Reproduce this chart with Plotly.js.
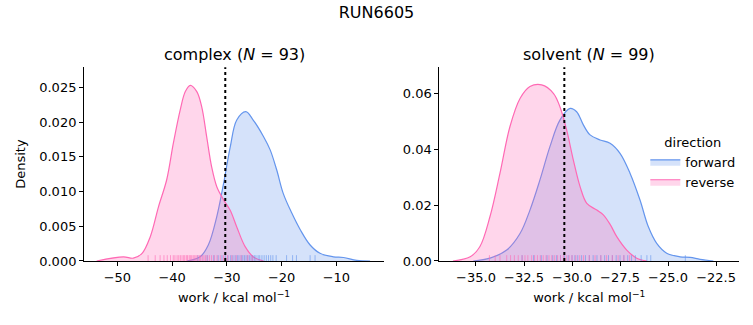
<!DOCTYPE html>
<html>
<head>
<meta charset="utf-8">
<script src="https://cdn.plot.ly/plotly-3.0.1.min.js"></script>
<style>html,body{margin:0;padding:0;background:#fff;}#chart{width:753px;height:325px;}</style>
</head>
<body>
<div id="chart"></div>
<script>
// ---- data ----
const figTitle = "RUN6605";
const panelNames = ["complex", "solvent"];
const panelN = [93, 99];
const directions = ["forward", "reverse"];
const refLine = [-30.3, -30.4];

// KDE curves (x, density) - complex
const cxForwardX = [-37.3, -34.9, -33.4, -31.85, -30.6, -29.4, -28.2, -26.55, -25.2, -23.3, -22.1, -20.9, -19.7, -18.15, -16.6, -14.8, -13.0, -10.55, -8.7, -6.3, -3.85];
const cxForwardY = [0, 0.0006, 0.0023, 0.0064, 0.0112, 0.0164, 0.0203, 0.0215, 0.0203, 0.0179, 0.0160, 0.0131, 0.0097, 0.0069, 0.0045, 0.0023, 0.0011, 0.0006, 0.0005, 0.0001, 0];
const cxReverseX = [-53.8, -48.9, -47.1, -45.5, -44.0, -42.5, -41.0, -39.8, -38.55, -37.6, -36.7, -35.5, -34.6, -33.7, -32.8, -31.85, -30.6, -29.4, -28.2, -26.7, -25.2, -23.3];
const cxReverseY = [0, 0.0006, 0.0004, 0.0011, 0.0035, 0.0078, 0.0117, 0.0169, 0.0217, 0.0244, 0.0253, 0.0244, 0.0222, 0.0179, 0.0136, 0.0107, 0.0088, 0.0073, 0.0049, 0.0021, 0.0006, 0];

// KDE curves - solvent
const svForwardX = [-35.14, -34.27, -33.4, -32.7, -32.19, -31.67, -31.15, -30.63, -30.1, -29.76, -29.41, -29.06, -28.54, -28.02, -27.5, -26.98, -26.46, -26.03, -25.59, -25.07, -24.38, -23.85, -23.33, -22.64];
const svForwardY = [0, 0.001, 0.0039, 0.0099, 0.0182, 0.029, 0.0409, 0.0504, 0.0546, 0.0534, 0.0487, 0.0451, 0.0433, 0.0421, 0.0385, 0.0314, 0.0218, 0.0123, 0.0063, 0.0028, 0.0015, 0.0013, 0.0006, 0];
const svReverseX = [-36.2, -35.3, -34.8, -34.27, -33.75, -33.23, -32.7, -32.19, -31.58, -30.97, -30.63, -30.28, -29.93, -29.58, -29.23, -28.71, -28.37, -28.0, -27.67, -27.15, -26.63, -26.1];
const svReverseY = [0, 0.0015, 0.0051, 0.0159, 0.0314, 0.0481, 0.0582, 0.0624, 0.063, 0.060, 0.0552, 0.0469, 0.0361, 0.0266, 0.0206, 0.0182, 0.0165, 0.0129, 0.0087, 0.0039, 0.0010, 0];

// rug samples (work values)
const cxForwardRug = [-35.3, -33.6, -32.4, -31.6, -30.9, -30.3, -29.8, -29.3, -28.9, -28.5, -28.1, -27.8, -27.4, -27.1, -26.8, -26.5, -26.2, -25.9, -25.6, -25.3, -25.0, -24.7, -24.3, -24.0, -23.6, -23.2, -22.8, -22.4, -22.0, -21.6, -21.0, -19.1, -18.0, -17.3, -14.8, -13.9];
const cxReverseRug = [-44.4, -43.1, -42.2, -41.5, -40.9, -40.3, -39.8, -39.5, -39.1, -38.8, -38.5, -38.2, -37.9, -37.7, -37.4, -37.2, -36.9, -36.7, -36.5, -36.2, -36.0, -35.8, -35.5, -35.3, -35.0, -34.8, -34.5, -34.2, -33.9, -33.6, -33.2, -32.8, -32.3, -31.8, -31.2, -30.6, -29.9, -29.1, -28.3, -27.4, -26.2, -25.4];
const svForwardRug = [-32.6, -32.0, -31.6, -31.3, -31.0, -30.8, -30.6, -30.4, -30.2, -30.0, -29.85, -29.7, -29.5, -29.3, -29.1, -28.9, -28.7, -28.5, -28.3, -28.1, -27.9, -27.7, -27.5, -27.3, -27.1, -26.9, -26.7, -26.4, -26.1, -25.9, -24.1];
const svReverseRug = [-34.3, -34.0, -33.75, -33.4, -33.2, -33.0, -32.8, -32.6, -32.45, -32.3, -32.1, -31.95, -31.8, -31.65, -31.5, -31.35, -31.2, -31.05, -30.9, -30.75, -30.6, -30.45, -30.3, -30.15, -30.0, -29.8, -29.6, -29.4, -29.1, -28.8, -28.5, -28.2, -27.9, -27.6, -27.3, -27.0];

// ---- styling ----
const blue = "#6495ED", pink = "#FF69B4";
const blueFill = "rgba(100,149,237,0.27)", pinkFill = "rgba(255,105,180,0.27)";
const blueRug = "rgba(100,149,237,0.6)", pinkRug = "rgba(255,105,180,0.6)";
const font = "DejaVu Sans, sans-serif";
const fs = 13;

function curve(x, y, xa, ya, name, line, fill, showlegend) {
  return {x: x, y: y, xaxis: xa, yaxis: ya, type: "scatter", mode: "lines", name: name,
    line: {color: line, width: 1.2, shape: "spline", smoothing: 1.0}, fill: "tozeroy", fillcolor: fill,
    showlegend: showlegend, legendgroup: name, hoverinfo: "skip"};
}

const traces = [
  curve(cxForwardX, cxForwardY, "x", "y", directions[0], blue, blueFill, true),
  curve(cxReverseX, cxReverseY, "x", "y", directions[1], pink, pinkFill, true),
  curve(svForwardX, svForwardY, "x2", "y2", directions[0], blue, blueFill, false),
  curve(svReverseX, svReverseY, "x2", "y2", directions[1], pink, pinkFill, false)
];

const shapes = [];
function rug(vals, xref, yref, color) {
  vals.forEach(v => shapes.push({type: "line", xref: xref, yref: yref + " domain", x0: v, x1: v, y0: 0, y1: 0.03,
    line: {color: color, width: 1}}));
}
rug(cxForwardRug, "x", "y", blueRug);
rug(cxReverseRug, "x", "y", pinkRug);
rug(svForwardRug, "x2", "y2", blueRug);
rug(svReverseRug, "x2", "y2", pinkRug);
shapes.push({type: "line", xref: "x", yref: "y domain", x0: refLine[0], x1: refLine[0], y0: 0, y1: 1, line: {color: "black", width: 2, dash: "dot"}});
shapes.push({type: "line", xref: "x2", yref: "y2 domain", x0: refLine[1], x1: refLine[1], y0: 0, y1: 1, line: {color: "black", width: 2, dash: "dot"}});

const axisCommon = {showgrid: false, zeroline: false, showline: true, linecolor: "black", linewidth: 1,
  ticks: "outside", ticklen: 4, tickwidth: 1, tickcolor: "black", tickfont: {size: fs, color: "black", family: font}};
const xTitle = {text: "work / kcal mol<sup>−1</sup>", font: {size: fs, color: "black", family: font}, standoff: 9};

const yDom = [0.197, 0.793];
const layout = {
  width: 753, height: 325,
  margin: {l: 0, r: 0, t: 0, b: 0},
  paper_bgcolor: "white", plot_bgcolor: "white",
  font: {family: font, color: "black"},
  title: {text: figTitle, x: 0.5, xanchor: "center", y: 0.962, yanchor: "middle", font: {size: 16, family: font, color: "black"}},
  xaxis: Object.assign({}, axisCommon, {domain: [0.1116, 0.510], range: [-56.1, -1.3], anchor: "y", dtick: 10, tick0: 0, title: xTitle}),
  yaxis: Object.assign({}, axisCommon, {domain: yDom, range: [0, 0.0279], anchor: "x", dtick: 0.005, tickformat: ".3f",
    title: {text: "Density", font: {size: fs, color: "black", family: font}, standoff: 10}}),
  xaxis2: Object.assign({}, axisCommon, {domain: [0.5834, 0.9818], range: [-36.91, -21.29], anchor: "y2", dtick: 2.5, tick0: 0, tickformat: ".1f", title: xTitle}),
  yaxis2: Object.assign({}, axisCommon, {domain: yDom, range: [0, 0.0693], anchor: "x2", dtick: 0.02, tickformat: ".2f"}),
  shapes: shapes,
  annotations: [
    {text: panelNames[0] + " (<i>N</i> = " + panelN[0] + ")", xref: "paper", yref: "paper", x: (0.1116 + 0.510) / 2, y: 0.833, xanchor: "center", yanchor: "middle", showarrow: false, font: {size: 16, family: font, color: "black"}},
    {text: panelNames[1] + " (<i>N</i> = " + panelN[1] + ")", xref: "paper", yref: "paper", x: (0.5834 + 0.9818) / 2, y: 0.833, xanchor: "center", yanchor: "middle", showarrow: false, font: {size: 16, family: font, color: "black"}}
  ],
  legend: {title: {text: "direction", font: {size: fs, family: font, color: "black"}, side: "top center"},
    x: 0.857, y: 0.6, xanchor: "left", yanchor: "top", bgcolor: "rgba(0,0,0,0)", borderwidth: 0,
    font: {size: fs, family: font, color: "black"}, tracegroupgap: 0, itemwidth: 30},
  showlegend: true
};

Plotly.newPlot("chart", traces, layout, {displayModeBar: false, staticPlot: true});
</script>
</body>
</html>
